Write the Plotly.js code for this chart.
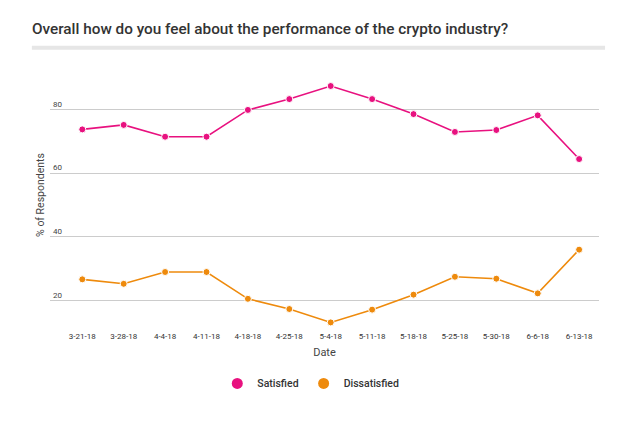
<!DOCTYPE html>
<html>
<head>
<meta charset="utf-8">
<script src="https://cdn.plot.ly/plotly-3.0.1.min.js"></script>
<style>
html,body{margin:0;padding:0;background:#fff;}
#chart{width:640px;height:433px;}
</style>
</head>
<body>
<div id="chart"></div>
<script>
const dates = ["3-21-18","3-28-18","4-4-18","4-11-18","4-18-18","4-25-18","5-4-18","5-11-18","5-18-18","5-25-18","5-30-18","6-6-18","6-13-18"];
const satisfied = [73.7,75.1,71.4,71.4,79.8,83.2,87.3,83.2,78.5,72.9,73.5,78.1,64.4];
const dissatisfied = [26.7,25.3,29.0,29.0,20.6,17.4,13.2,17.2,21.9,27.5,26.9,22.3,36.0];
const seriesNames = ["Satisfied","Dissatisfied"];
const seriesColors = ["#e8117f","#ee8a0c"];
const yTicks = [20,40,60,80];

const seriesData = [satisfied, dissatisfied];
const traces = [];
seriesData.forEach((vals, i) => {
  traces.push({x: dates, y: vals, name: seriesNames[i], type: "scatter", mode: "lines+markers",
    showlegend: false,
    line: {color: seriesColors[i], width: 1.6},
    marker: {color: seriesColors[i], size: 7, line: {color: "#ffffff", width: 1}}});
});
// legend entries show only a dot, as in the reference
seriesData.forEach((vals, i) => {
  traces.push({x: [null], y: [null], name: seriesNames[i], type: "scatter", mode: "markers",
    showlegend: true, marker: {color: seriesColors[i], size: 11}});
});

const layout = {
  width: 640, height: 433,
  paper_bgcolor: "#ffffff", plot_bgcolor: "#ffffff",
  margin: {l: 50, r: 41, t: 60, b: 103},
  font: {family: "Roboto, sans-serif", color: "#333"},
  title: {text: "Overall how do you feel about the performance of the crypto industry?",
          font: {family: "Roboto, sans-serif", size: 15.3, color: "#333", weight: 500},
          x: 32/640, xanchor: "left", xref: "container", y: 1 - 29/433, yref: "container", yanchor: "middle"},
  showlegend: true,
  legend: {orientation: "h", x: 0.475, xanchor: "center", y: -0.144, yanchor: "top",
           font: {size: 10.5, color: "#333", weight: 500}, itemwidth: 30, tracegroupgap: 0},
  xaxis: {type: "category", range: [-0.78, 12.48], showgrid: false, zeroline: false,
          showline: false, ticks: "", ticklen: 0, tickfont: {size: 8, color: "#333"},
          title: {text: "Date", font: {size: 11, color: "#444"}, standoff: 8},
          fixedrange: true},
  yaxis: {range: [10.82, 95.45], tickvals: yTicks, ticktext: yTicks.map(String),
          showgrid: true, gridcolor: "#cccccc", gridwidth: 1, zeroline: false, showline: false,
          ticks: "", ticklabelposition: "inside top", tickfont: {size: 8, color: "#444"},
          title: {text: "% of Respondents", font: {size: 10.5, color: "#444"}, standoff: 6},
          fixedrange: true},
  shapes: [
    {type: "line", xref: "paper", yref: "paper", x0: -0.033, x1: 1.011, y0: 1.045, y1: 1.045,
     line: {color: "#e6e6e6", width: 4}}
  ]
};

Plotly.newPlot("chart", traces, layout, {displayModeBar: false, staticPlot: true});
</script>
</body>
</html>
